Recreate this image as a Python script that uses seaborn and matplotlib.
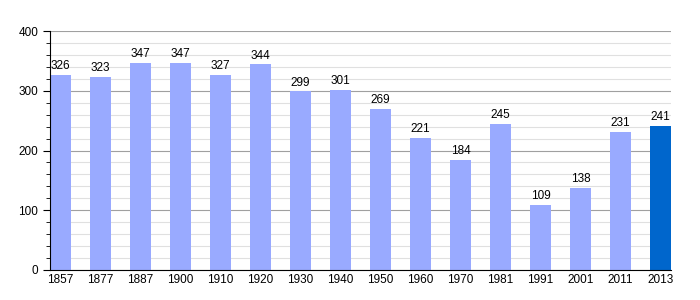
import matplotlib
matplotlib.use("Agg")
import matplotlib.pyplot as plt
import seaborn as sns
import pandas as pd
from matplotlib.ticker import MultipleLocator

years = ["1857", "1877", "1887", "1900", "1910", "1920", "1930", "1940", "1950",
         "1960", "1970", "1981", "1991", "2001", "2011", "2013"]
population = [326, 323, 347, 347, 327, 344, 299, 301, 269, 221, 184, 245, 109, 138, 231, 241]

df = pd.DataFrame({"year": years, "pop": population})
colors = ["#99AAFF"] * (len(years) - 1) + ["#0066CC"]

sns.set_style("white")
plt.rcParams["font.family"] = ["Liberation Sans", "DejaVu Sans"]

fig = plt.figure(figsize=(7, 3), dpi=100)
ax = fig.add_axes([50/700, 30/300, 621/700, 239/300])

sns.barplot(data=df, x="year", y="pop", hue="year", palette=colors, legend=False,
            width=0.525, ax=ax, saturation=1, linewidth=0, edgecolor="none")

ax.set_ylim(0, 400)
ax.set_xlim(-0.2625, len(years) - 1 + 0.2625)
ax.yaxis.set_major_locator(MultipleLocator(100))
ax.yaxis.set_minor_locator(MultipleLocator(20))
ax.grid(axis="y", which="major", color="#a0a0a0", linewidth=0.8)
ax.grid(axis="y", which="minor", color="#e0e0e0", linewidth=0.8)
ax.set_axisbelow(True)
for s in ["top", "right"]:
    ax.spines[s].set_visible(False)
ax.spines["left"].set_color("black")
ax.spines["bottom"].set_color("black")
ax.tick_params(axis="y", which="major", length=5, labelsize=8.5, left=True, colors="black")
ax.tick_params(axis="y", which="minor", length=3, left=True, colors="black")
ax.tick_params(axis="x", length=0, labelsize=8.5, pad=3, colors="black")
ax.set_xlabel("")
ax.set_ylabel("")

for c in ax.containers:
    ax.bar_label(c, fontsize=8.5, padding=2, color="black")

fig.savefig("out.png", dpi=100)
